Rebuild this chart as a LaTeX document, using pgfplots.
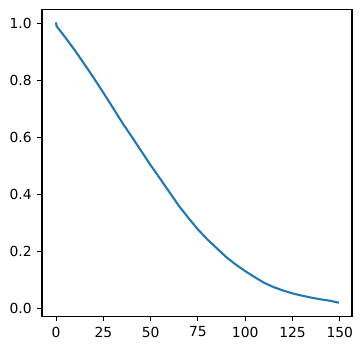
\documentclass[border=0pt]{standalone}
\usepackage{pgfplots}
\pgfplotsset{compat=1.18}
\usepackage{fontspec}
\setmainfont{DejaVu Sans}
\definecolor{c0}{HTML}{1F77B4}
\begin{document}
\begin{tikzpicture}
\path[use as bounding box] (-31.5pt,-25.7pt) rectangle (240pt,237.35pt);
\begin{axis}[
  at={(0,0)}, anchor=south west,
  scale only axis, width=232.5pt, height=230.25pt,
  xmin=-7.45, xmax=156.45, ymin=-0.0269, ymax=1.0489,
  xtick={0,25,50,75,100,125,150},
  ytick={0,0.2,0.4,0.6,0.8,1.0},
  yticklabel style={/pgf/number format/fixed, /pgf/number format/fixed zerofill, /pgf/number format/precision=1},
  /pgf/number format/assume math mode=true,
  tick label style={font=\fontsize{10.4}{12.5}\selectfont},
  tick align=outside, major tick length=3.65pt,
  xtick pos=bottom, ytick pos=left,
  axis line style={line width=0.83pt},
  every tick/.style={line width=0.83pt, black},
  xticklabel style={yshift=-0.6pt},
  yticklabel style={xshift=-0.6pt},
]
\addplot[c0, line width=1.56pt, line join=round, line cap=rect] coordinates {
(0,1.000) (0.3,0.990) (5,0.950) (10,0.905) (15,0.857) (20,0.808) (25,0.757)
(30,0.705) (35,0.652) (40,0.603) (45,0.553) (50,0.503) (55,0.456) (60,0.408)
(65,0.360) (70,0.318) (75,0.278) (80,0.243) (85,0.212) (90,0.181) (95,0.155)
(100,0.132) (105,0.111) (110,0.091) (115,0.076) (120,0.064) (125,0.054)
(130,0.046) (135,0.039) (140,0.033) (145,0.028) (149,0.022)
};
\end{axis}
\end{tikzpicture}
\end{document}
